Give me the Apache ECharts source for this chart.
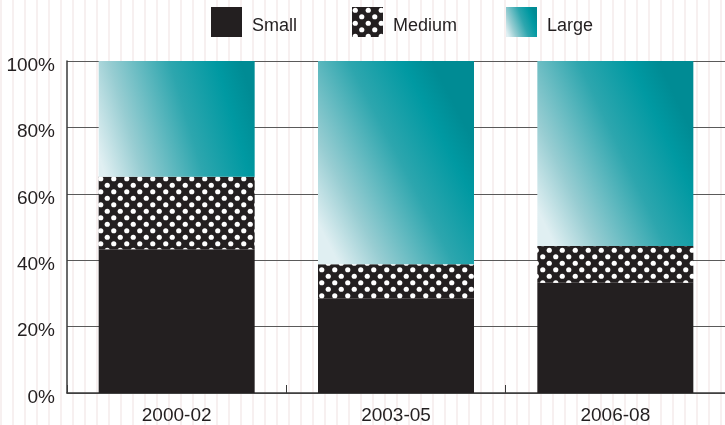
<!DOCTYPE html>
<html>
<head>
<meta charset="utf-8">
<script src="https://cdn.jsdelivr.net/npm/echarts@6/dist/echarts.min.js"></script>
<style>
html,body{margin:0;padding:0;background:#fff;}
#c{width:725px;height:425px;}
</style>
</head>
<body>
<div id="c"></div>
<script>
const categories = ['2000-02', '2003-05', '2006-08'];
const smallValues = [43.3, 28.4, 33.2];
const mediumValues = [21.8, 10.4, 11.1];
const largeValues = [34.9, 61.2, 55.7];
const yTicks = [0, 20, 40, 60, 80, 100];

const FONT = "'Liberation Sans', Arial, sans-serif";
const INK = '#231f20';

function dotPattern() {
  const c = document.createElement('canvas');
  c.width = 13; c.height = 13;
  const g = c.getContext('2d');
  g.fillStyle = INK;
  g.fillRect(0, 0, 13, 13);
  g.fillStyle = '#ffffff';
  const dots = [[3.25, 3.25], [9.75, 9.75]];
  dots.forEach(function (d) {
    g.beginPath();
    g.arc(d[0], d[1], 2.6, 0, Math.PI * 2);
    g.fill();
  });
  return { image: c, repeat: 'repeat' };
}

function stripePattern() {
  const c = document.createElement('canvas');
  c.width = 12; c.height = 4;
  const g = c.getContext('2d');
  g.fillStyle = '#ffffff';
  g.fillRect(0, 0, 12, 4);
  g.fillStyle = '#f7f0f0';
  g.fillRect(0, 0, 2, 4);
  return { image: c, repeat: 'repeat' };
}

const largeGrad = new echarts.graphic.LinearGradient(0, 0.8, 1, 0.4, [
  { offset: 0, color: '#e0eff2' },
  { offset: 0.22, color: '#98cdd2' },
  { offset: 0.58, color: '#2da6ae' },
  { offset: 0.85, color: '#0099a2' },
  { offset: 1, color: '#008b94' }
]);

const chart = echarts.init(document.getElementById('c'), null, { renderer: 'canvas' });

const legendBase = {
  top: 7,
  padding: 0,
  itemWidth: 31,
  itemHeight: 30,
  icon: 'rect',
  formatter: function (name) { return '{t|' + name + '}'; },
  textStyle: {
    fontFamily: FONT, fontSize: 18, color: INK,
    rich: { t: { fontFamily: FONT, fontSize: 18, color: INK, padding: [8, 0, 0, 5] } }
  }
};

chart.setOption({
  animation: false,
  backgroundColor: '#ffffff',
  graphic: [{
    type: 'rect',
    z: -10,
    silent: true,
    shape: { x: 0, y: 0, width: 725, height: 425 },
    style: { fill: stripePattern() }
  }],
  legend: [
    Object.assign({}, legendBase, { left: 211, data: ['Small'] }),
    Object.assign({}, legendBase, { left: 352, data: ['Medium'] }),
    Object.assign({}, legendBase, { left: 506, data: ['Large'] })
  ],
  grid: { left: 67, right: -8, top: 61, bottom: 32, containLabel: false },
  xAxis: {
    type: 'category',
    data: categories,
    axisLine: { lineStyle: { color: '#3a3a3a', width: 1.5 } },
    axisTick: { show: true, inside: true, length: 8, lineStyle: { color: '#3a3a3a', width: 1 } },
    axisLabel: { fontFamily: FONT, fontSize: 19, color: INK, margin: 13 }
  },
  yAxis: {
    type: 'value',
    min: yTicks[0],
    max: yTicks[yTicks.length - 1],
    interval: yTicks[1] - yTicks[0],
    axisLine: { show: true, lineStyle: { color: '#3a3a3a', width: 1.5 } },
    axisTick: { show: false },
    splitLine: { lineStyle: { color: '#5a5a5a', width: 1.2 } },
    axisLabel: { fontFamily: FONT, fontSize: 19, color: INK, margin: 12,
      verticalAlign: 'top', lineHeight: 9, formatter: '{value}%' }
  },
  series: [
    { name: 'Small', type: 'bar', stack: 's', barWidth: 156, data: smallValues,
      itemStyle: { color: INK } },
    { name: 'Medium', type: 'bar', stack: 's', data: mediumValues,
      itemStyle: { color: dotPattern() } },
    { name: 'Large', type: 'bar', stack: 's', data: largeValues,
      itemStyle: { color: largeGrad } }
  ]
});
</script>
</body>
</html>
